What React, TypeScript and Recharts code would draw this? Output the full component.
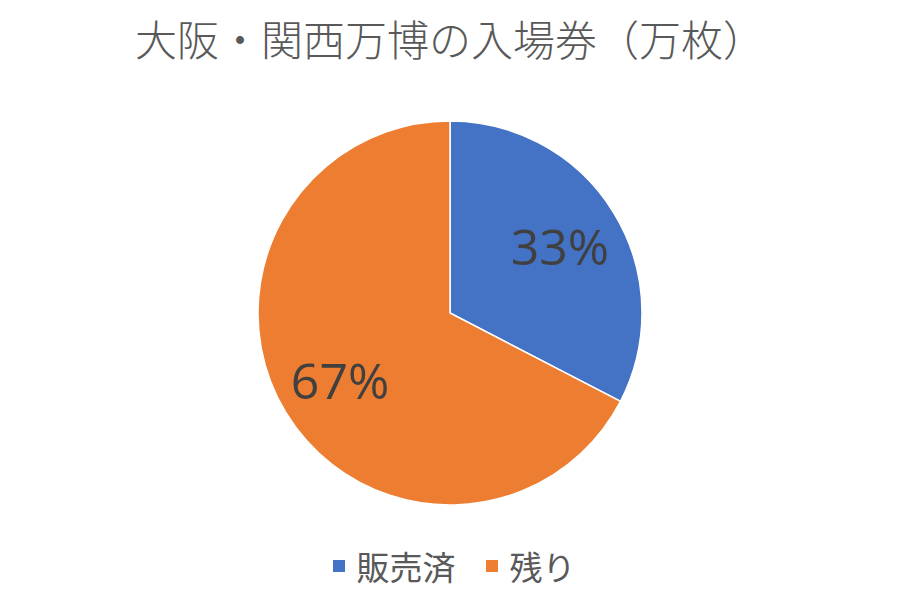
import { PieChart, Pie, Cell, Legend } from "recharts";

// 大阪・関西万博の入場券（万枚）
const categories = ["販売済", "残り"];
const tickets = [750, 1550];
const colors = ["#4472c4", "#ed7d31"];

const data = categories.map((name, i) => ({ name, value: tickets[i] }));

const RAD = Math.PI / 180;

const renderLabel = ({ cx, cy, midAngle, outerRadius, percent }: any) => {
    const r = outerRadius * 0.67;
    const x = cx + r * Math.cos(-midAngle * RAD);
    const y = cy + r * Math.sin(-midAngle * RAD);
    return (
        <text x={x} y={y} fill="#404040" fontSize={50} fontFamily="'Open Sans', sans-serif" textAnchor="middle" dominantBaseline="central">
            {`${Math.round(percent * 100)}%`}
        </text>
    );
};

// keep the legend in data order
const renderLegend = () => (
    <div style={{ display: "flex", justifyContent: "center", alignItems: "center", gap: 30, paddingLeft: 8, fontFamily: "'Noto Sans CJK JP', sans-serif", fontSize: 33, color: "#595959" }}>
        {data.map((d, i) => (
            <div key={d.name} style={{ display: "flex", alignItems: "center" }}>
                <span style={{ display: "inline-block", width: 12, height: 12, background: colors[i], marginRight: 12 }} />
                <span>{d.name}</span>
            </div>
        ))}
    </div>
);

export default function App() {
    return (
        <div style={{ position: "relative", width: 900, height: 600, background: "#fff" }}>
            <style>{`body{margin:0}`}</style>
            <div style={{ position: "absolute", top: 10, left: 0, width: 900, textAlign: "center", fontFamily: "'Noto Sans CJK JP', sans-serif", fontWeight: 300, fontSize: 42, lineHeight: "56px", color: "#595959" }}>
                大阪・関西万博の入場券（万枚）
            </div>
            <PieChart width={900} height={600}>
                <Pie
                    data={data}
                    dataKey="value"
                    nameKey="name"
                    cx={445}
                    cy={308}
                    outerRadius={192}
                    startAngle={90}
                    endAngle={-270}
                    stroke="#fff"
                    strokeWidth={1.5}
                    label={renderLabel}
                    labelLine={false}
                    isAnimationActive={false}
                >
                    {data.map((d, i) => (
                        <Cell key={d.name} fill={colors[i]} />
                    ))}
                </Pie>
                <Legend verticalAlign="bottom" content={renderLegend} wrapperStyle={{ bottom: 10 }} />
            </PieChart>
        </div>
    );
}
